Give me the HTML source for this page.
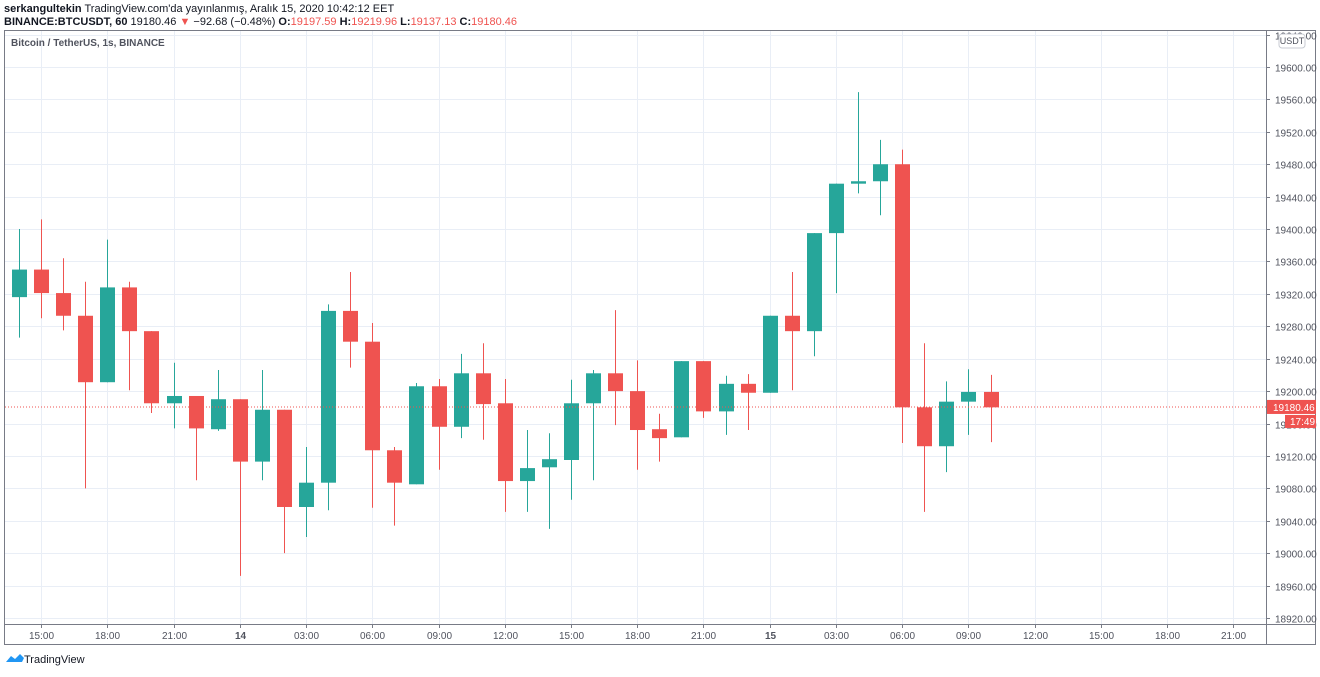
<!DOCTYPE html>
<html><head><meta charset="utf-8"><style>
body{margin:0;background:#fff;font-family:"Liberation Sans",sans-serif;}
svg text{font-family:"Liberation Sans",sans-serif;}
</style></head><body>
<svg id="c" width="1320" height="672" xmlns="http://www.w3.org/2000/svg">
<text x="4" y="12" font-size="11" fill="#131722"><tspan font-weight="bold">serkangultekin</tspan> TradingView.com'da yayınlanmış, Aralık 15, 2020 10:42:12 EET</text>
<text x="4" y="25" font-size="11" fill="#131722"><tspan font-weight="bold">BINANCE:BTCUSDT, 60</tspan> 19180.46 <tspan fill="#ef5350">▼</tspan> −92.68 (−0.48%) <tspan font-weight="bold">O:</tspan><tspan fill="#ef5350">19197.59</tspan> <tspan font-weight="bold">H:</tspan><tspan fill="#ef5350">19219.96</tspan> <tspan font-weight="bold">L:</tspan><tspan fill="#ef5350">19137.13</tspan> <tspan font-weight="bold">C:</tspan><tspan fill="#ef5350">19180.46</tspan></text>
<g id="grid"></g>
<g id="candles"></g>
<rect x="4.5" y="30.5" width="1311" height="614" fill="none" stroke="#787b86"/>
<line x1="4" y1="624.5" x2="1316" y2="624.5" stroke="#787b86"/>
<line x1="1266.5" y1="30" x2="1266.5" y2="645" stroke="#787b86"/>
<g id="axes"></g>
<text x="11" y="46" font-size="10" font-weight="bold" fill="#50535e">Bitcoin / TetherUS, 1s, BINANCE</text>
<g><path d="M6 662 l5 -6 l4 3 l5 -5 l4 4 l-2 4 z" fill="#2196f3"/><text x="24" y="663" font-size="11" fill="#131722">TradingView</text></g>
</svg>
<script>
const opens=[19316,19350,19321,19293,19211,19328,19274,19185,19194,19153,19190,19113,19177,19057,19087,19299,19261,19127,19085,19206,19156,19222,19185,19089,19106,19115,19185,19222,19200,19153,19143,19237,19175,19209,19198,19293,19274,19395,19456,19459,19480,19180,19132,19187,19199];
const highs=[19400,19412,19364,19335,19387,19335,19274,19235,19194,19226,19190,19226,19177,19131,19307,19347,19284,19131,19210,19215,19246,19259,19215,19152,19148,19214,19226,19300,19238,19172,19237,19237,19219,19221,19293,19347,19395,19456,19569,19510,19498,19259,19212,19227,19220];
const lows=[19266,19290,19275,19080,19211,19201,19173,19154,19090,19151,18972,19090,19000,19020,19053,19229,19056,19034,19085,19103,19142,19140,19051,19051,19030,19066,19090,19158,19103,19113,19143,19167,19146,19152,19198,19201,19243,19321,19444,19417,19136,19051,19100,19146,19137];
const closes=[19350,19321,19293,19211,19328,19274,19185,19194,19154,19190,19113,19177,19057,19087,19299,19261,19127,19087,19206,19156,19222,19184,19089,19105,19116,19185,19222,19200,19152,19142,19237,19175,19209,19198,19293,19274,19395,19456,19459,19480,19180,19132,19187,19199,19180];
const priceTicks=[18920,18960,19000,19040,19080,19120,19160,19200,19240,19280,19320,19360,19400,19440,19480,19520,19560,19600,19640];
const timeLabels=["15:00","18:00","21:00","14","03:00","06:00","09:00","12:00","15:00","18:00","21:00","15","03:00","06:00","09:00","12:00","15:00","18:00","21:00"];
const lastPrice=19180.46;
const NS="http://www.w3.org/2000/svg";
const y=p=>67+(19600-p)*0.8103;
const x=i=>19+i*22.08;
function mk(t,a,parent){const e=document.createElementNS(NS,t);for(const k in a)e.setAttribute(k,a[k]);parent.appendChild(e);return e;}
const grid=document.getElementById('grid'),cg=document.getElementById('candles'),ax=document.getElementById('axes');
priceTicks.forEach(p=>{const yy=Math.round(y(p))+0.5;
 const g=mk('line',{x1:5,x2:1266,y1:yy,y2:yy,stroke:'#e9eef6'},grid);
 
 
 mk('line',{x1:1266,x2:1270,y1:yy,y2:yy,stroke:'#787b86'},ax);
 const t=mk('text',{x:1275,y:yy+4,'font-size':10,fill:'#50535e'},ax);t.textContent=p.toFixed(2);
 
 
});
timeLabels.forEach((l,k)=>{const xx=Math.round(x(1+3*k))+0.5;
 const g=mk('line',{x1:xx,x2:xx,y1:31,y2:624,stroke:'#e9eef6'},grid);
 
 
 mk('line',{x1:xx,x2:xx,y1:624,y2:628,stroke:'#787b86'},ax);
 const t=mk('text',{x:xx,y:639,'font-size':10,fill:'#50535e','text-anchor':'middle','font-weight':/:/.test(l)?'normal':'bold'},ax);t.textContent=l;
 
 
});
opens.forEach((o,i)=>{const c=closes[i],up=c>=o,col=up?'#26a69a':'#ef5350',cx=Math.round(x(i))+0.5;
 const w=mk('line',{x1:cx,x2:cx,y1:y(highs[i]),y2:y(lows[i]),stroke:col},cg);
 
 
 const top=y(Math.max(o,c)),bot=y(Math.min(o,c));
 const r=mk('rect',{x:cx-7.5,y:top,width:15,height:Math.max(1,bot-top),fill:col},cg);
 
 
});
const ly=y(lastPrice);
const pl=mk('line',{x1:5,x2:1266,y1:ly,y2:ly,stroke:'#ef5350','stroke-dasharray':'1 2'},ax);


mk('rect',{x:1267,y:ly-7,width:49,height:14,fill:'#ef5350'},ax);
const lt=mk('text',{x:1273,y:ly+4,'font-size':10,fill:'#fff'},ax);lt.textContent=lastPrice.toFixed(2);


mk('rect',{x:1285,y:ly+8,width:31,height:13,fill:'#ef5350'},ax);
const ct=mk('text',{x:1290,y:ly+18,'font-size':10,fill:'#fff'},ax);ct.textContent='17:49';


mk('rect',{x:1279,y:34,width:26,height:14,rx:3,fill:'#fff',stroke:'#c8cbd3'},ax);
const ut=mk('text',{x:1292,y:44,'font-size':9,fill:'#50535e','text-anchor':'middle'},ax);ut.textContent='USDT';


</script>
</body></html>
